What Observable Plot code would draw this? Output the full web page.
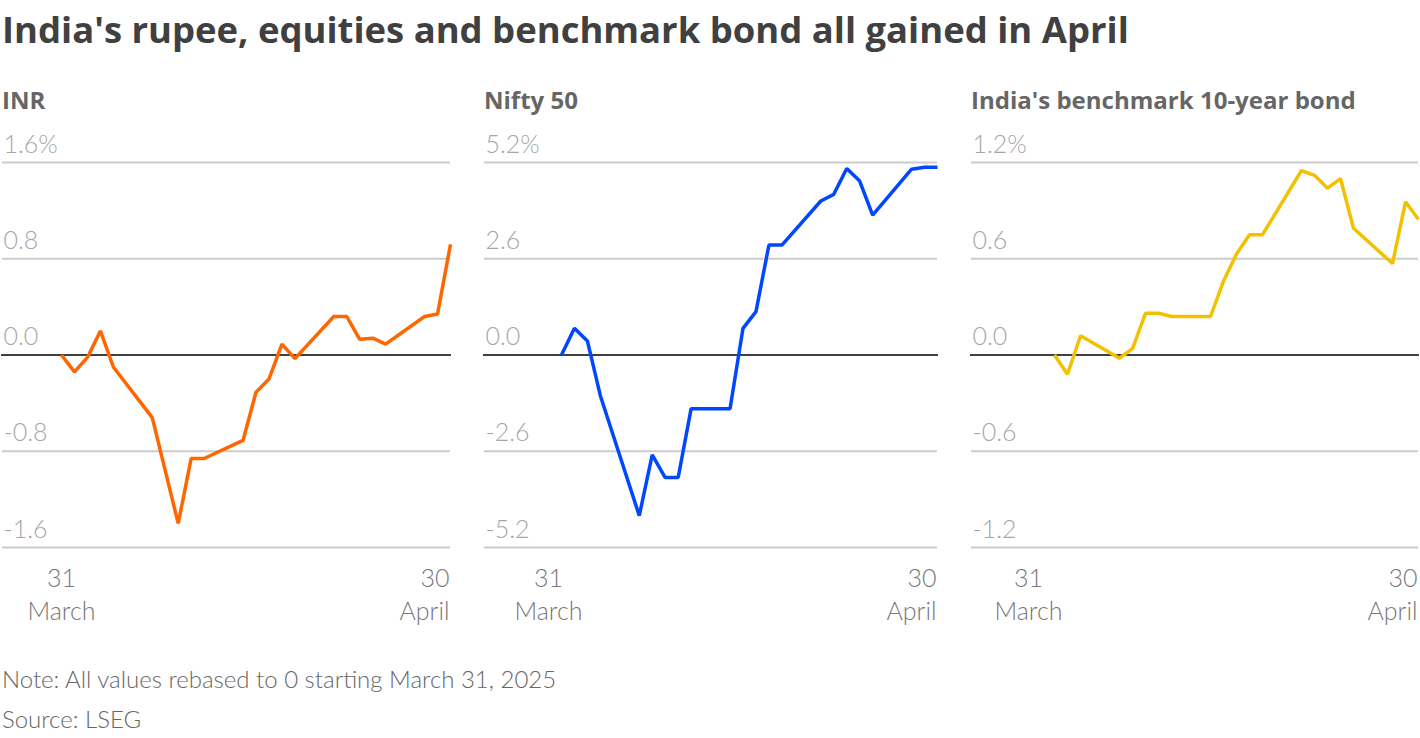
<!DOCTYPE html>
<html>
<head>
<meta charset="utf-8">
<script src="https://cdn.jsdelivr.net/npm/d3@7"></script>
<script src="https://cdn.jsdelivr.net/npm/@observablehq/plot@0.6"></script>
<style>
  html, body { margin: 0; padding: 0; background: #fff; }
  body { width: 1420px; height: 738px; position: relative; overflow: hidden; font-family: Lato, "Open Sans", sans-serif; }
  .title { position: absolute; left: 2px; top: 8px; font-family: "Open Sans", sans-serif; font-size: 35px; line-height: 1.2; font-weight: 700; color: #404040; white-space: nowrap; }
  .ptitle { position: absolute; top: 86px; font-family: "Open Sans", sans-serif; font-size: 24px; line-height: 1.2; font-weight: 700; color: #666; white-space: nowrap; }
  .panel { position: absolute; top: 120px; }
  .note { position: absolute; left: 2px; font-size: 24px; font-weight: 300; color: #666; white-space: nowrap; }
</style>
</head>
<body>
<div class="title" id="title">India's rupee, equities and benchmark bond all gained in April</div>
<div class="ptitle" style="left:2px">INR</div>
<div class="ptitle" style="left:484px">Nifty 50</div>
<div class="ptitle" id="bondTitle" style="left:971px">India's benchmark 10-year bond</div>
<div id="p1" class="panel" style="left:0px"></div>
<div id="p2" class="panel" style="left:480px"></div>
<div id="p3" class="panel" style="left:965px"></div>
<div class="note" style="top:664px">Note: All values rebased to 0 starting March 31, 2025</div>
<div class="note" style="top:704px">Source: LSEG</div>
<script>
// ---- data ----
const inrDates = ["2025-03-31","2025-04-01","2025-04-02","2025-04-03","2025-04-04","2025-04-07","2025-04-09","2025-04-10","2025-04-11","2025-04-14","2025-04-15","2025-04-16","2025-04-17","2025-04-18","2025-04-21","2025-04-22","2025-04-23","2025-04-24","2025-04-25","2025-04-28","2025-04-29","2025-04-30"];
const inrValues = [0, -0.14, -0.02, 0.20, -0.10, -0.52, -1.40, -0.86, -0.86, -0.71, -0.31, -0.20, 0.09, -0.03, 0.32, 0.32, 0.13, 0.14, 0.09, 0.32, 0.34, 0.92];

const niftyDates = ["2025-04-01","2025-04-02","2025-04-03","2025-04-04","2025-04-07","2025-04-08","2025-04-09","2025-04-10","2025-04-11","2025-04-14","2025-04-15","2025-04-16","2025-04-17","2025-04-18","2025-04-21","2025-04-22","2025-04-23","2025-04-24","2025-04-25","2025-04-28","2025-04-29","2025-04-30"];
const niftyValues = [0, 0.72, 0.38, -1.10, -4.34, -2.70, -3.31, -3.31, -1.45, -1.45, 0.72, 1.17, 2.97, 2.97, 4.16, 4.34, 5.04, 4.70, 3.78, 5.02, 5.07, 5.07];

const bondDates = ["2025-04-02","2025-04-03","2025-04-04","2025-04-07","2025-04-08","2025-04-09","2025-04-10","2025-04-11","2025-04-14","2025-04-15","2025-04-16","2025-04-17","2025-04-18","2025-04-21","2025-04-22","2025-04-23","2025-04-24","2025-04-25","2025-04-28","2025-04-29","2025-04-30"];
const bondValues = [0, -0.12, 0.12, -0.02, 0.04, 0.26, 0.26, 0.24, 0.24, 0.46, 0.63, 0.75, 0.75, 1.15, 1.12, 1.04, 1.10, 0.79, 0.57, 0.955, 0.845];

const inrTicks = [-1.6, -0.8, 0, 0.8, 1.6];
const niftyTicks = [-5.2, -2.6, 0, 2.6, 5.2];
const bondTicks = [-1.2, -0.6, 0, 0.6, 1.2];

const xStart = "2025-03-31", xEnd = "2025-04-30";
const startLabel = "31\nMarch", endLabel = "30\nApril";

const colors = {inr: "#ff6600", nifty: "#0047ff", bond: "#f2c200"};

// fit header widths to the reference
function fit(el, target) {
  const w = el.getBoundingClientRect().width;
  const fs = parseFloat(getComputedStyle(el).fontSize);
  return fs * target / w;
}
const t = document.getElementById("title");
t.style.fontSize = fit(t, 1127) + "px";
const bt = document.getElementById("bondTitle");
const pfs = fit(bt, 385);
document.querySelectorAll(".ptitle").forEach(e => e.style.fontSize = pfs + "px");

function rows(dates, values) {
  return dates.map((d, i) => ({date: new Date(d), value: values[i]}));
}

function panel({data, ticks, color, width, mL, mR, xr}) {
  const top = ticks[ticks.length - 1];
  const fmt = d => d === top ? d.toFixed(1) + "%" : d.toFixed(1);
  return Plot.plot({
    width, height: 520,
    marginLeft: mL, marginRight: mR, marginTop: 42, marginBottom: 93,
    style: {fontFamily: "Lato, 'Open Sans', sans-serif", background: "transparent", overflow: "visible"},
    x: {type: "utc", domain: [new Date(xStart), new Date(xEnd)], range: xr},
    y: {domain: [ticks[0], top]},
    marks: [
      Plot.ruleY(ticks.filter(t => t !== 0), {stroke: "#cccccc", strokeWidth: 2}),
      Plot.ruleY([0], {stroke: "#404040", strokeWidth: 2, insetLeft: -1, insetRight: -1}),
      Plot.axisY({ticks, label: null, tickSize: 0, tickPadding: 0, dx: 1, dy: -10, textAnchor: "start", lineAnchor: "bottom",
        tickFormat: fmt, fontSize: 25, fontWeight: 300, fill: "#a6a6a6"}),
      Plot.axisX({ticks: [new Date(xStart)], label: null, tickSize: 0, tickPadding: 72, lineAnchor: "bottom", lineHeight: 1.3,
        textAnchor: "middle", tickFormat: () => startLabel, fontSize: 25, fontWeight: 300, fill: "#777"}),
      Plot.axisX({ticks: [new Date(xEnd)], label: null, tickSize: 0, tickPadding: 72, lineAnchor: "bottom", lineHeight: 1.3,
        textAnchor: "end", dx: -1, tickFormat: () => endLabel, fontSize: 25, fontWeight: 300, fill: "#777"}),
      Plot.line(data, {x: "date", y: "value", stroke: color, strokeWidth: 3.5, strokeLinejoin: "miter", strokeLinecap: "butt"})
    ]
  });
}

document.getElementById("p1").append(panel({data: rows(inrDates, inrValues), ticks: inrTicks, color: colors.inr, width: 455, mL: 2, mR: 5, xr: [61, 450]}));
document.getElementById("p2").append(panel({data: rows(niftyDates, niftyValues), ticks: niftyTicks, color: colors.nifty, width: 460, mL: 4, mR: 3, xr: [68, 457]}));
document.getElementById("p3").append(panel({data: rows(bondDates, bondValues), ticks: bondTicks, color: colors.bond, width: 455, mL: 6, mR: 2, xr: [63, 453]}));
</script>
</body>
</html>
